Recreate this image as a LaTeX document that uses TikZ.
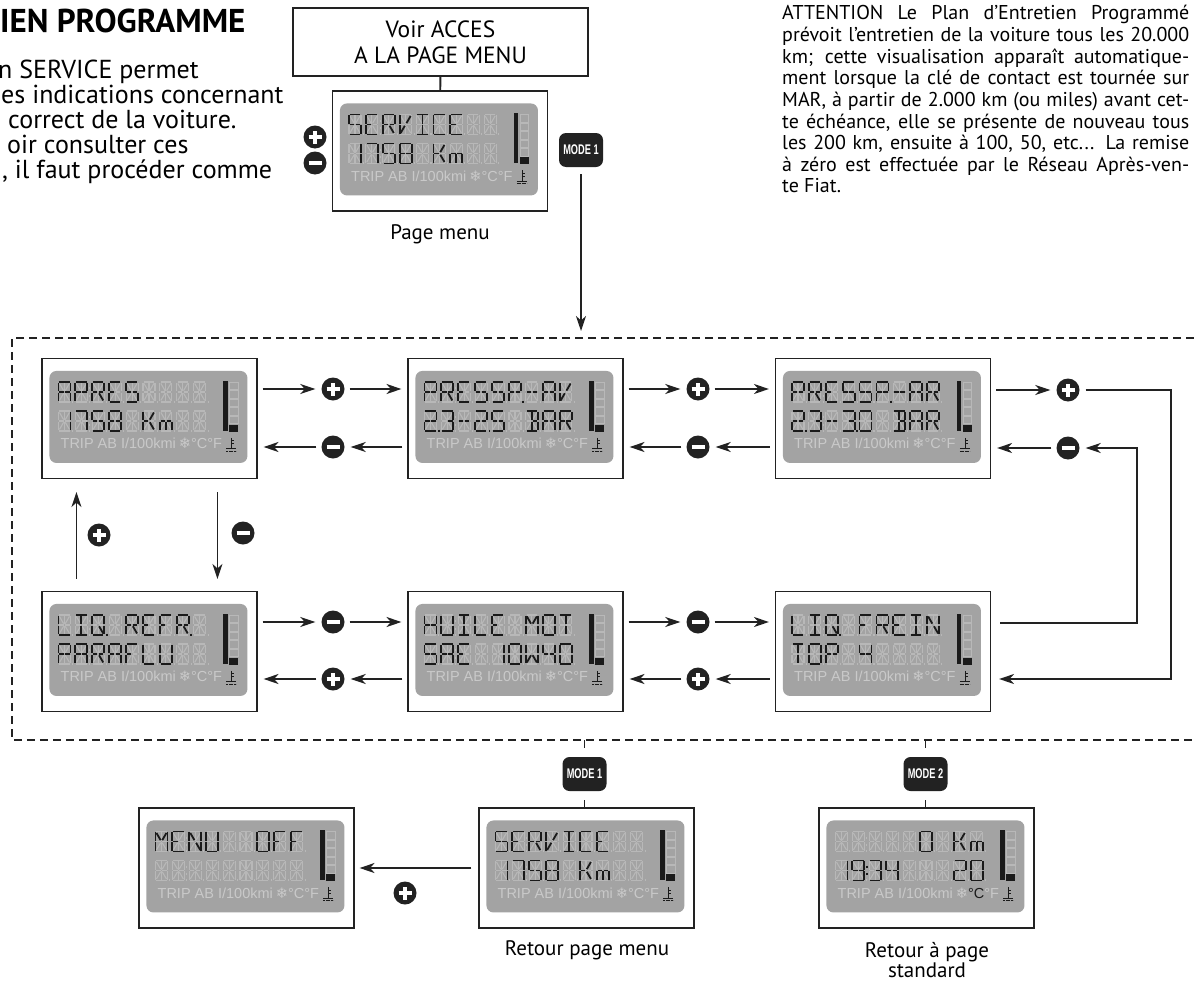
\documentclass[tikz,border=0pt]{standalone}
\usepackage{fontspec}
\usepackage{graphicx}
\setmainfont{PT Sans}
\newfontfamily\lcdfont{Liberation Sans}
\newfontfamily\symfont{DejaVu Sans}
\usetikzlibrary{arrows.meta,positioning}
\definecolor{lcdpanel}{HTML}{A3A3A3}
\definecolor{lcdghost}{HTML}{B8B8B8}
\definecolor{lcdlight}{HTML}{C9C9C9}
\definecolor{segdark}{HTML}{1A1A1A}
\definecolor{inkgray}{HTML}{222222}

% 14-segment cell: 12 wide, 20 high, y downwards
\newcommand{\defseg}[2]{\expandafter\def\csname sp:#1\endcsname{#2}}
\newcommand{\defchar}[2]{\expandafter\def\csname lcd:#1\endcsname{#2}}
\defseg{a}{0.8/0/11.2/0}      \defseg{d}{0.8/20/11.2/20}
\defseg{b}{12/0.8/12/9.2}     \defseg{c}{12/10.8/12/19.2}
\defseg{f}{0/0.8/0/9.2}       \defseg{e}{0/10.8/0/19.2}
\defseg{g}{0.8/10/5.2/10}     \defseg{G}{6.8/10/11.2/10}
\defseg{h}{1/1.5/5.2/8.7}     \defseg{i}{6/0.8/6/9.2}
\defseg{j}{11/1.5/6.8/8.7}    \defseg{k}{5.2/11.3/1/18.5}
\defseg{l}{6/10.8/6/19.2}     \defseg{m}{6.8/11.3/11/18.5}
\defseg{p}{14.4/18.6/14.4/20.8}
\defseg{q}{14.4/5.2/14.4/7.2} \defseg{Q}{14.4/12.8/14.4/14.8}
\defchar{x}{}
\defchar{-}{g,G}
\defchar{A}{a,b,c,e,f,g,G}    \defchar{B}{a,b,c,d,i,l,G}
\defchar{C}{a,d,e,f}          \defchar{E}{a,d,e,f,g}
\defchar{F}{a,e,f,g}          \defchar{H}{b,c,e,f,g,G}
\defchar{I}{a,d,i,l}          \defchar{K}{e,f,g,j,m}
\defchar{L}{d,e,f}            \defchar{M}{b,c,e,f,h,j}
\defchar{N}{b,c,e,f,h,m}      \defchar{O}{a,b,c,d,e,f}
\defchar{P}{a,b,e,f,g,G}      \defchar{Pp}{a,b,e,f,g,G,p}
\defchar{Qp}{a,b,c,d,e,f,m,p} \defchar{R}{a,b,e,f,g,G,m}
\defchar{Rp}{a,b,e,f,g,G,m,p} \defchar{S}{a,c,d,f,g,G}
\defchar{T}{a,i,l}            \defchar{U}{b,c,d,e,f}
\defchar{V}{e,f,j,k}          \defchar{W}{b,c,e,f,k,m}
\defchar{m}{c,e,l,g,G}
\defchar{0}{a,b,c,d,e,f}      \defchar{1}{b,c}
\defchar{2p}{a,b,d,e,g,G,p}   \defchar{3}{a,b,c,d,G}
\defchar{3p}{a,b,c,d,G,p}     \defchar{4}{b,c,f,g,G}
\defchar{5}{a,c,d,f,g,G}      \defchar{7}{a,b,c}
\defchar{8}{a,b,c,d,e,f,g,G}  \defchar{9q}{a,b,c,d,f,g,G,q,Q}
\defchar{2}{a,b,d,e,g,G}

\def\lcdline#1/#2/#3/#4\relax#5{\draw[#5] (#1,-#2) -- (#3,-#4);}
\newcommand{\lcdseg}[2]{\ifcsname sp:#2\endcsname
  \expandafter\expandafter\expandafter\lcdline\csname sp:#2\endcsname\relax{#1}\fi}
\newcommand{\lcdrow}[2]{%
  \foreach \ch [count=\k] in {#2}{%
    \begin{scope}[shift={(17+16.9*\k-16.9,#1)}]
      \foreach \s in {a,b,c,d,e,f,g,G,h,i,j,k,l,m,p}{\lcdseg{ghost}{\s}}
      \ifnum\k=2 \lcdseg{ghost}{q}\lcdseg{ghost}{Q}\fi
      \edef\seglist{\csname lcd:\ch\endcsname}
      \foreach \s in \seglist {\lcdseg{segon}{\s}}
    \end{scope}}}
% #1 frame node, #2 upper row, #3 lower row, #4 colour of the degree C sign
\newcommand{\lcdshow}[4]{%
  \begin{scope}[shift={(#1.north west)}]
    \fill[lcdpanel,rounded corners=7pt] (8,-13) rectangle (206,-105);
    \lcdrow{-24}{#2}
    \lcdrow{-53}{#3}
    \fill[segdark] (182,-23) rectangle (186.5,-73);
    \foreach \b in {0,...,4}
      \draw[lcdghost,line width=0.8pt] (188,-24-8.5*\b) rectangle (196.5,-31.5-8.5*\b);
    \fill[segdark] (188,-67) rectangle (197,-74);
    \node[lcdlabel,anchor=base west] (#1-lbl) at (19,-91)
      {TRIP AB I/100kmi\hspace{3pt}{\symfont ❄}{\color{#4}°C}°F};
    \draw[segdark,line width=0.9pt] (190,-80) -- (190,-90.5)
      (190,-82.5) -- (192.6,-82.5) (190,-85.5) -- (192.6,-85.5)
      (185,-90.5) -- (195,-90.5);
    \draw[segdark,line width=0.8pt,dash pattern=on 1.6pt off 0.9pt] (185,-93) -- (195,-93);
  \end{scope}}

\begin{document}
\begin{tikzpicture}[x=1pt,y=1pt,
    >={Stealth[length=15pt,width=10pt,inset=4.5pt]},
    lcdbox/.style={draw=inkgray,line width=1.1pt,fill=white,minimum width=215pt,
                   minimum height=120pt,inner sep=0pt},
    pmbtn/.style={circle,fill=inkgray,minimum size=23pt,inner sep=0pt},
    plusbtn/.style={pmbtn,path picture={
      \draw[white,line width=3.4pt]
        ([xshift=-6.5pt]path picture bounding box.center) -- ([xshift=6.5pt]path picture bounding box.center)
        ([yshift=-6.5pt]path picture bounding box.center) -- ([yshift=6.5pt]path picture bounding box.center);}},
    minusbtn/.style={pmbtn,path picture={
      \draw[white,line width=3.4pt]
        ([xshift=-6.5pt]path picture bounding box.center) -- ([xshift=6.5pt]path picture bounding box.center);}},
    modebadge/.style={fill=inkgray,rounded corners=7pt,minimum width=44pt,minimum height=34pt,
                      inner sep=0pt,text=white,font=\lcdfont\bfseries\fontsize{14}{14}\selectfont},
    arrow/.style={->,line width=1.9pt,draw=inkgray,shorten <=5pt,shorten >=6pt},
    tickline/.style={line width=1.9pt,draw=inkgray},
    ghost/.style={lcdghost,line width=1.1pt},
    segon/.style={segdark,line width=1.8pt},
    lcdlabel/.style={inner sep=0pt,text=lcdlight,font=\lcdfont\fontsize{14.5}{15}\selectfont},
    caption/.style={inner sep=0pt,align=center,font=\fontsize{21}{21}\selectfont},
    textline/.style={inner sep=0pt,anchor=base west}
  ]
  \useasboundingbox (0,0) rectangle (1194,-982);

  % text above the diagram
  \node[textline,font=\bfseries\fontsize{33}{34}\selectfont] (title) at (0,-33) {IEN PROGRAMME};
  \foreach \tx/\ln [count=\i] in {-2/{n SERVICE permet},1/{es indications concernant},
      8/{correct de la voiture.},7/{oir consulter ces},2/{, il faut procéder comme}}
    \node[textline,font=\fontsize{26}{28}\selectfont] (intro\i) at (\tx,-78-25*\i+25) {\ln};
  \foreach \ln [count=\i] in {{ATTENTION Le Plan d’Entretien Programmé},
      {prévoit l’entretien de la voiture tous les 20.000},
      {km; cette visualisation apparaît automatique-},
      {ment lorsque la clé de contact est tournée sur},
      {MAR, à partir de 2.000 km (ou miles) avant cet-},
      {te échéance, elle se présente de nouveau tous},
      {les 200 km, ensuite à 100, 50, etc.{}.{}. La remise},
      {à zéro est effectuée par le Réseau Après-ven-}}
    \node[textline,font=\fontsize{20}{21}\selectfont] (attn\i) at (782,-20-21.6*\i+21.6)
      {\makebox[407pt][s]{\ln}};
  \node[textline,font=\fontsize{20}{21}\selectfont] (attn9) at (782,-192.8) {te Fiat.};

  % page menu
  \node[draw=inkgray,line width=1.1pt,minimum width=295pt,minimum height=68pt,align=center,
        font=\fontsize{23.5}{26}\selectfont] (voir) at (440.5,-42) {Voir ACCES\\A LA PAGE MENU};
  \node[lcdbox] (menutop) at (440,-151) {};
  \lcdshow{menutop}{S,E,R,V,I,C,E,x,x}{1,7,5,8,x,K,m,x,x}{lcdlight}
  \node[caption] (menulbl) at (440,-234) {Page menu};
  \node[plusbtn] (ptop) at (315,-137) {};
  \node[minusbtn] (mtop) at (315,-163) {};
  \node[modebadge] (modetop) at (581,-150) {\scalebox{0.66}[1]{MODE 1}};
  \coordinate (entry) at (581,-331);
  \draw[tickline] (voir) -- (menutop);
  \draw[arrow,shorten <=7pt,shorten >=0pt] (modetop) -- (entry);

  % dashed frame
  \draw[inkgray,line width=1.8pt,dash pattern=on 8pt off 5pt]
    (1194,-338) -- (12,-338) -- (12,-740) -- (1194,-740);

  % service pages
  \node[lcdbox] (apres) at (149.5,-418.5) {};
  \node[lcdbox] (pressav) at (515.5,-418.5) {};
  \node[lcdbox] (pressar) at (883,-418.5) {};
  \node[lcdbox] (liqrefr) at (149.5,-651.5) {};
  \node[lcdbox] (huile) at (515.5,-651.5) {};
  \node[lcdbox] (liqfrein) at (883,-651.5) {};
  \lcdshow{apres}{A,P,R,E,S,x,x,x,x}{1,7,5,8,x,K,m,x,x}{lcdlight}
  \lcdshow{pressav}{P,R,E,S,S,Pp,-,A,V}{2p,3,-,2p,5,x,B,A,R}{lcdlight}
  \lcdshow{pressar}{P,R,E,S,S,Pp,-,A,R}{2p,3,-,3p,0,x,B,A,R}{lcdlight}
  \lcdshow{liqrefr}{L,I,Qp,x,R,E,F,Rp,x}{P,A,R,A,F,L,U,x,x}{lcdlight}
  \lcdshow{huile}{H,U,I,L,E,x,M,O,T}{S,A,E,x,1,0,W,4,0}{lcdlight}
  \lcdshow{liqfrein}{L,I,Qp,x,F,R,E,I,N}{T,O,P,x,4,x,x,x,x}{lcdlight}

  \node[plusbtn] (p1) at (333,-389) {};
  \node[minusbtn] (m1) at (333,-447) {};
  \node[plusbtn] (p2) at (698,-389) {};
  \node[minusbtn] (m2) at (698,-447) {};
  \node[plusbtn] (p3) at (1068,-390) {};
  \node[minusbtn] (m3) at (1068,-448) {};
  \node[minusbtn] (m4) at (333,-622) {};
  \node[plusbtn] (p4) at (333,-679) {};
  \node[minusbtn] (m5) at (698,-622) {};
  \node[plusbtn] (p5) at (698,-679) {};
  \node[plusbtn] (pup) at (99,-535) {};
  \node[minusbtn] (mdown) at (243,-533) {};

  \draw[arrow] (apres.east |- p1) -- (p1);
  \draw[arrow] (p1) -- (pressav.west |- p1);
  \draw[arrow] (pressav.west |- m1) -- (m1);
  \draw[arrow] (m1) -- (apres.east |- m1);
  \draw[arrow] (pressav.east |- p2) -- (p2);
  \draw[arrow] (p2) -- (pressar.west |- p2);
  \draw[arrow] (pressar.west |- m2) -- (m2);
  \draw[arrow] (m2) -- (pressav.east |- m2);
  \draw[arrow] (pressar.east |- p3) -- (p3);
  \draw[arrow] (m3) -- (pressar.east |- m3);
  \draw[arrow] (liqrefr.east |- m4) -- (m4);
  \draw[arrow] (m4) -- (huile.west |- m4);
  \draw[arrow] (huile.west |- p4) -- (p4);
  \draw[arrow] (p4) -- (liqrefr.east |- p4);
  \draw[arrow] (huile.east |- m5) -- (m5);
  \draw[arrow] (m5) -- (liqfrein.west |- m5);
  \draw[arrow] (liqfrein.west |- p5) -- (p5);
  \draw[arrow] (p5) -- (huile.east |- p5);
  \draw[arrow,shorten <=12pt,shorten >=13pt] ([xshift=35pt]liqrefr.north west) -- ([xshift=35pt]apres.south west);
  \draw[arrow,shorten <=13pt,shorten >=12pt] ([xshift=176pt]apres.south west) -- ([xshift=176pt]liqrefr.north west);

  % loop on the right
  \coordinate (loopout) at (1171,-390);
  \coordinate (loopin) at (1137,-623);
  \draw[arrow,shorten <=6pt,shorten >=8pt] (p3) -- (loopout) |- ([yshift=-27.5pt]liqfrein.east);
  \draw[arrow,shorten <=9pt,shorten >=6pt] ([yshift=28.5pt]liqfrein.east) -- (loopin) |- (m3);

  % leaving the menu
  \node[lcdbox] (menuoff) at (246.5,-868) {};
  \node[lcdbox] (retmenu) at (586.5,-868) {};
  \node[lcdbox] (retstd) at (926.5,-868) {};
  \lcdshow{menuoff}{M,E,N,U,x,x,O,F,F}{x,x,x,x,x,x,x,x,x}{lcdlight}
  \lcdshow{retmenu}{S,E,R,V,I,C,E,x,x}{1,7,5,8,x,K,m,x,x}{lcdlight}
  \lcdshow{retstd}{x,x,x,x,x,0,x,K,m}{1,9q,3,4,x,x,x,2,0}{segdark}
  \node[modebadge] (modeb1) at (584.5,-774) {\scalebox{0.66}[1]{MODE 1}};
  \node[modebadge] (modeb2) at (925.5,-774) {\scalebox{0.66}[1]{MODE 2}};
  \coordinate (cut1) at (584.5,-740);
  \coordinate (cut2) at (925.5,-740);
  \draw[tickline,shorten >=9pt] (cut1) -- (modeb1.north);
  \draw[tickline,shorten <=9pt] (modeb1.south) -- (modeb1.south |- retmenu.north);
  \draw[tickline,shorten >=9pt] (cut2) -- (modeb2.north);
  \draw[tickline,shorten <=9pt] (modeb2.south) -- (modeb2.south |- retstd.north);
  \draw[arrow,shorten <=7pt,shorten >=5pt] (retmenu.west) -- (menuoff.east);
  \node[plusbtn] (poff) at (405,-893) {};
  \node[caption] (retmenulbl) at (587,-950) {Retour page menu};
  \node[caption,font=\fontsize{21}{20}\selectfont] (retstdlbl) at (927,-960) {Retour à page\\standard};
\end{tikzpicture}
\end{document}
